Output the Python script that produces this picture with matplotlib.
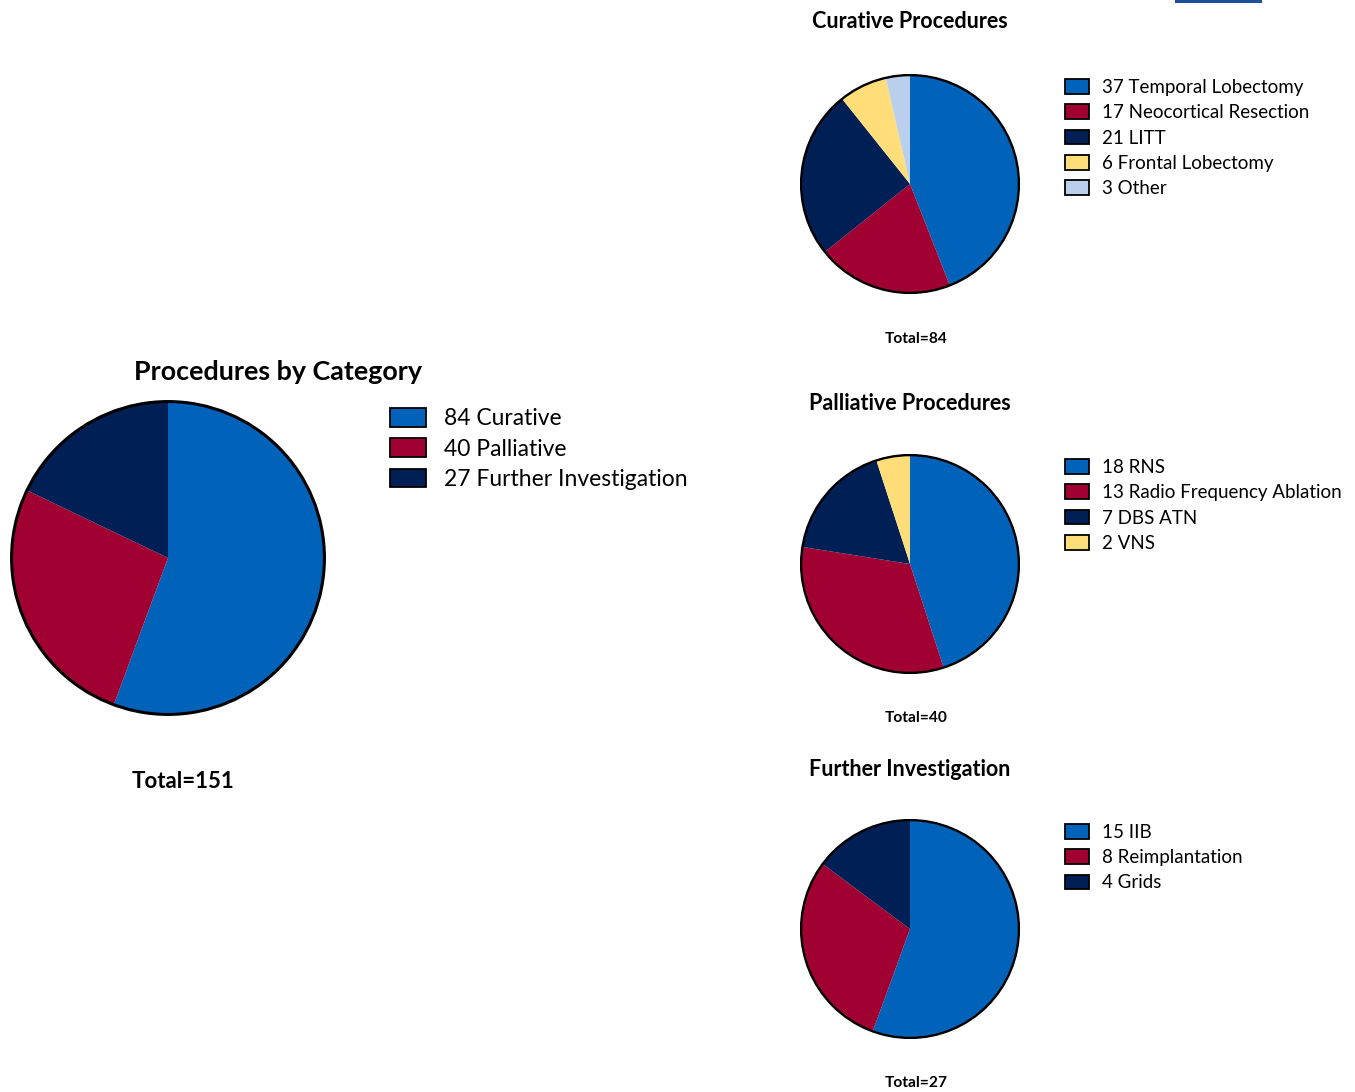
import matplotlib.pyplot as plt
from matplotlib.patches import Patch, Circle, Rectangle

plt.rcParams['font.family'] = ['Lato', 'DejaVu Sans']

# data
main_labels = ['Curative', 'Palliative', 'Further Investigation']
main_counts = [84, 40, 27]

cur_labels = ['Temporal Lobectomy', 'Neocortical Resection', 'LITT', 'Frontal Lobectomy', 'Other']
cur_counts = [37, 17, 21, 6, 3]

pal_labels = ['RNS', 'Radio Frequency Ablation', 'DBS ATN', 'VNS']
pal_counts = [18, 13, 7, 2]

inv_labels = ['IIB', 'Reimplantation', 'Grids']
inv_counts = [15, 8, 4]

BLUE = '#0062B8'
RED = '#A10033'
NAVY = '#001F54'
YELLOW = '#FFDE7A'
LIGHT = '#B9CFEB'
colors = [BLUE, RED, NAVY, YELLOW, LIGHT]

W, H = 1355, 1092
fig = plt.figure(figsize=(W / 100, H / 100), dpi=100)


def fx(x):
    return x / W


def fy(y):
    return 1 - y / H


def pie_panel(cx, cy, r, counts, labels, lw):
    ax = fig.add_axes([fx(cx - r), fy(cy + r), 2 * r / W, 2 * r / H])
    ax.pie(counts, colors=colors[:len(counts)], startangle=90, counterclock=False,
           radius=1, wedgeprops=dict(linewidth=0))
    ax.add_patch(Circle((0, 0), 1, fill=False, edgecolor='black', linewidth=lw))
    ax.set_xlim(-1.01, 1.01)
    ax.set_ylim(-1.01, 1.01)
    ax.set_aspect('equal')
    ax.axis('off')
    handles = [Patch(facecolor=colors[i], edgecolor='black', linewidth=1.3)
               for i in range(len(counts))]
    texts = ['%d %s' % (c, l) for c, l in zip(counts, labels)]
    return ax, handles, texts


# main pie
ax, h, t = pie_panel(168, 558, 158, main_counts, main_labels, 2.2)
fig.text(fx(278), fy(372), 'Procedures by Category', ha='center', va='center',
         fontsize=19.4, fontweight='bold')
fig.legend(h, t, loc='upper left', bbox_to_anchor=(fx(390), fy(408)), frameon=False,
           fontsize=16.5, handlelength=1.57, handleheight=0.87, labelspacing=0.40,
           handletextpad=0.79, borderpad=0, borderaxespad=0)
fig.text(fx(183), fy(781), 'Total=151', ha='center', va='center',
         fontsize=16, fontweight='bold')

# small pies
panels = [
    (184, 21, 339, 'Curative Procedures', cur_counts, cur_labels, 79),
    (564, 404, 718, 'Palliative Procedures', pal_counts, pal_labels, 459),
    (929, 769, 1083, 'Further Investigation', inv_counts, inv_labels, 824),
]
for cy, ty, toty, title, counts, labels, ly in panels:
    ax, h, t = pie_panel(910, cy, 110, counts, labels, 1.7)
    fig.text(fx(910), fy(ty), title, ha='center', va='center',
             fontsize=15.5, fontweight='bold')
    fig.legend(h, t, loc='upper left', bbox_to_anchor=(fx(1065), fy(ly)), frameon=False,
               fontsize=13.5, handlelength=1.28, handleheight=0.85, labelspacing=0.44,
               handletextpad=0.7, borderpad=0, borderaxespad=0)
    fig.text(fx(916), fy(toty), 'Total=%d' % sum(counts), ha='center', va='center',
             fontsize=11.2, fontweight='bold')

# cropped button edge at the top right
fig.patches.append(Rectangle((fx(1175), fy(3)), fx(1262) - fx(1175), 3 / H,
                             transform=fig.transFigure, facecolor='#1F4E9A',
                             edgecolor='none'))

fig.savefig('out.png', dpi=100)
